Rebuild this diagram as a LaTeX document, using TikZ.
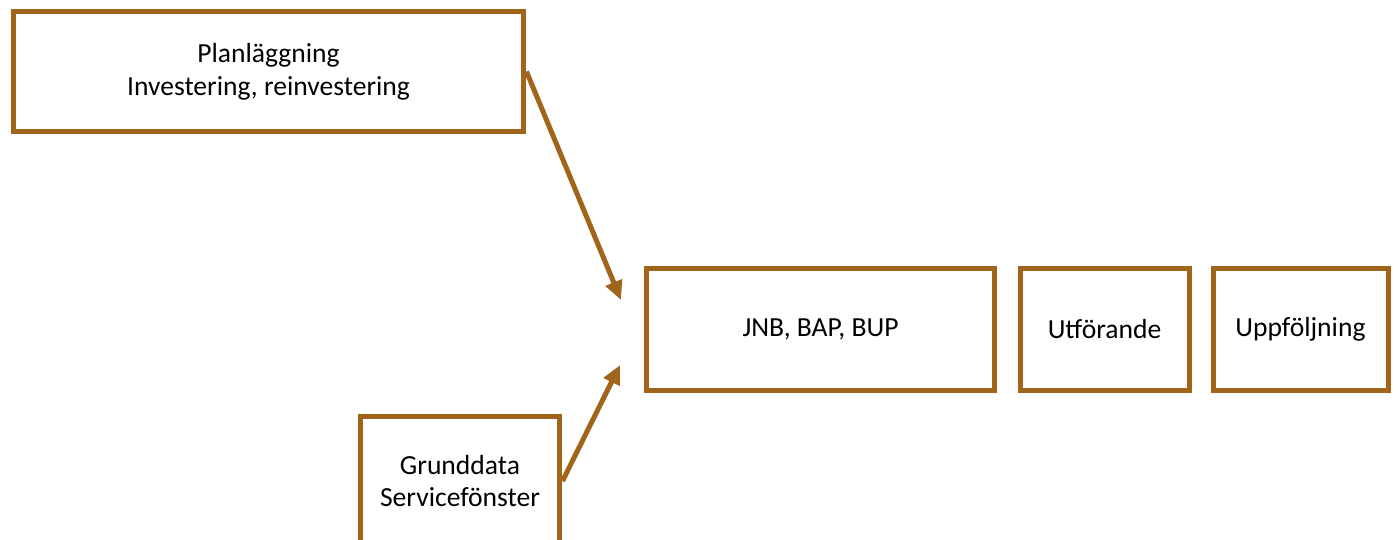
\documentclass[tikz,border=0pt]{standalone}
\usepackage{fontspec}
\setmainfont{Carlito}
\usetikzlibrary{positioning, calc, arrows.meta}
\definecolor{bronzebrown}{RGB}{160,100,26}

\begin{document}
\begin{tikzpicture}[x=0.02cm, y=-0.02cm]
		\tikzstyle{stage}=[rectangle, draw=bronzebrown, line width=1mm, fill=white, align=center, inner sep=0pt, font=\fontsize{15.7}{18.6}\selectfont]
		\tikzstyle{flow}=[draw=bronzebrown, line width=1mm, -{Triangle[length=0.38cm, width=0.34cm]}]
		\useasboundingbox (0,0) rectangle (1398,539);
		%%
		\node (plan) at (268.5,71.5) [stage, minimum width=10.22cm, minimum height=2.42cm] {Planläggning\\Investering, reinvestering};
		\node (jnb) at (820.5,329) [stage, minimum width=6.98cm, minimum height=2.44cm] {JNB, BAP, BUP};
		\node (utf) at (1104.5,329) [stage, minimum width=3.38cm, minimum height=2.44cm] {Utförande};
		\node (upp) at (1300.5,329) [stage, minimum width=3.5cm, minimum height=2.44cm] {Uppföljning};
		\node (grund) at (460,481) [stage, minimum width=4cm, minimum height=2.6cm] {Grunddata\\Servicefönster};
		
		\coordinate (in1) at (621,300);
		\coordinate (in2) at (620,365);
		
		\draw [flow] (plan.east) -- (in1);
		\draw [flow] (grund.east) -- (in2);
		\end{tikzpicture}
\end{document}
